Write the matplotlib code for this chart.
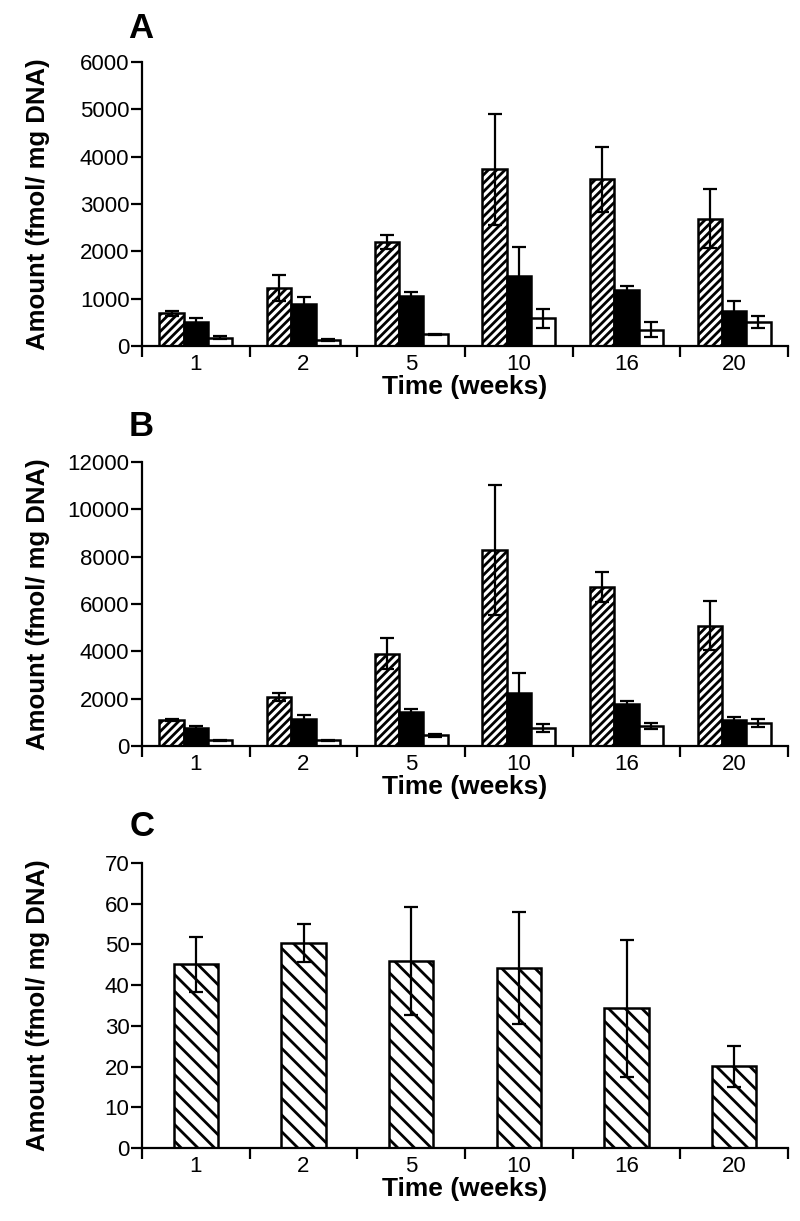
import numpy as np
import matplotlib
matplotlib.use("Agg")
import matplotlib.pyplot as plt

plt.rcParams['font.family'] = ['Liberation Sans', 'DejaVu Sans']
plt.rcParams['hatch.linewidth'] = 2.0
plt.rcParams['hatch.color'] = 'black'

# --- data ---
weeks = ['1', '2', '5', '10', '16', '20']

# panel A (fmol/mg DNA)
a_hatched = [690, 1230, 2200, 3730, 3520, 2690]
a_hatched_err = [60, 270, 155, 1170, 680, 620]
a_black = [500, 890, 1050, 1470, 1190, 730]
a_black_err = [90, 155, 90, 620, 70, 220]
a_white = [180, 130, 250, 590, 345, 510]
a_white_err = [40, 20, 10, 200, 160, 130]

# panel B
b_hatched = [1100, 2070, 3900, 8270, 6720, 5090]
b_hatched_err = [60, 150, 650, 2740, 630, 1040]
b_black = [780, 1150, 1430, 2220, 1755, 1095]
b_black_err = [50, 180, 140, 870, 130, 140]
b_white = [250, 250, 450, 745, 840, 980]
b_white_err = [20, 20, 70, 170, 140, 170]

# panel C
c_vals = [45.1, 50.3, 45.9, 44.2, 34.3, 20.1]
c_err = [6.8, 4.7, 13.2, 13.7, 16.8, 5.0]

FS = 16


def style_axes(ax, ymax, ystep):
    for s in ['top', 'right']:
        ax.spines[s].set_visible(False)
    for s in ['left', 'bottom']:
        ax.spines[s].set_linewidth(1.6)
    ax.set_xlim(0, len(weeks))
    ax.set_ylim(0, ymax)
    ax.set_yticks(np.arange(0, ymax + 1e-9, ystep))
    ax.tick_params(axis='y', direction='out', length=8, width=1.6,
                   labelsize=FS, pad=1)
    # boundary ticks (unlabelled) and centred labels
    ax.set_xticks(np.arange(0, len(weeks) + 1))
    ax.set_xticklabels([])
    ax.tick_params(axis='x', which='major', direction='out', length=8,
                   width=1.6)
    ax.set_xticks(np.arange(len(weeks)) + 0.5, minor=True)
    ax.set_xticklabels(weeks, minor=True)
    ax.tick_params(axis='x', which='minor', length=0, labelsize=FS, pad=6)
    ax.set_xlabel('Time (weeks)', fontsize=19, fontweight='bold', labelpad=0)
    ax.set_ylabel('Amount (fmol/ mg DNA)', fontsize=18.5, fontweight='bold')
    ax.yaxis.set_label_coords(-0.142, 0.5)


def grouped(ax, series, ymax, ystep):
    x = np.arange(len(weeks)) + 0.5
    w = 0.225
    fills = [('white', '////'), ('black', ''), ('white', '')]
    for i, (vals, errs) in enumerate(series):
        fc, hatch = fills[i]
        pos = x + (i - 1) * w
        ax.bar(pos, vals, width=w, color=fc, edgecolor='black',
               linewidth=1.8, hatch=hatch, zorder=2)
        ax.errorbar(pos, vals, yerr=errs, fmt='none', ecolor='black',
                    elinewidth=1.6, capsize=5, capthick=1.6, zorder=3)
    style_axes(ax, ymax, ystep)


fig = plt.figure(figsize=(8, 12.21), dpi=100)
axA = fig.add_axes([0.1775, 0.7166, 0.8075, 0.2326])
axB = fig.add_axes([0.1775, 0.3890, 0.8075, 0.2326])
axC = fig.add_axes([0.1775, 0.0598, 0.8075, 0.2334])

grouped(axA, [(a_hatched, a_hatched_err), (a_black, a_black_err),
              (a_white, a_white_err)], 6000, 1000)
grouped(axB, [(b_hatched, b_hatched_err), (b_black, b_black_err),
              (b_white, b_white_err)], 12000, 2000)

xc = np.arange(len(weeks)) + 0.5
axC.bar(xc, c_vals, width=0.41, color='white', edgecolor='black',
        linewidth=1.8, hatch='\\\\', zorder=2)
axC.errorbar(xc, c_vals, yerr=c_err, fmt='none', ecolor='black',
             elinewidth=1.6, capsize=5, capthick=1.6, zorder=3)
style_axes(axC, 70, 10)

fig.text(141 / 800, 1 - 28 / 1221, 'A', fontsize=25, fontweight='bold',
         ha='center', va='center')
fig.text(141 / 800, 1 - 426 / 1221, 'B', fontsize=25, fontweight='bold',
         ha='center', va='center')
fig.text(142 / 800, 1 - 827 / 1221, 'C', fontsize=25, fontweight='bold',
         ha='center', va='center')

fig.savefig('out.png', dpi=100)
